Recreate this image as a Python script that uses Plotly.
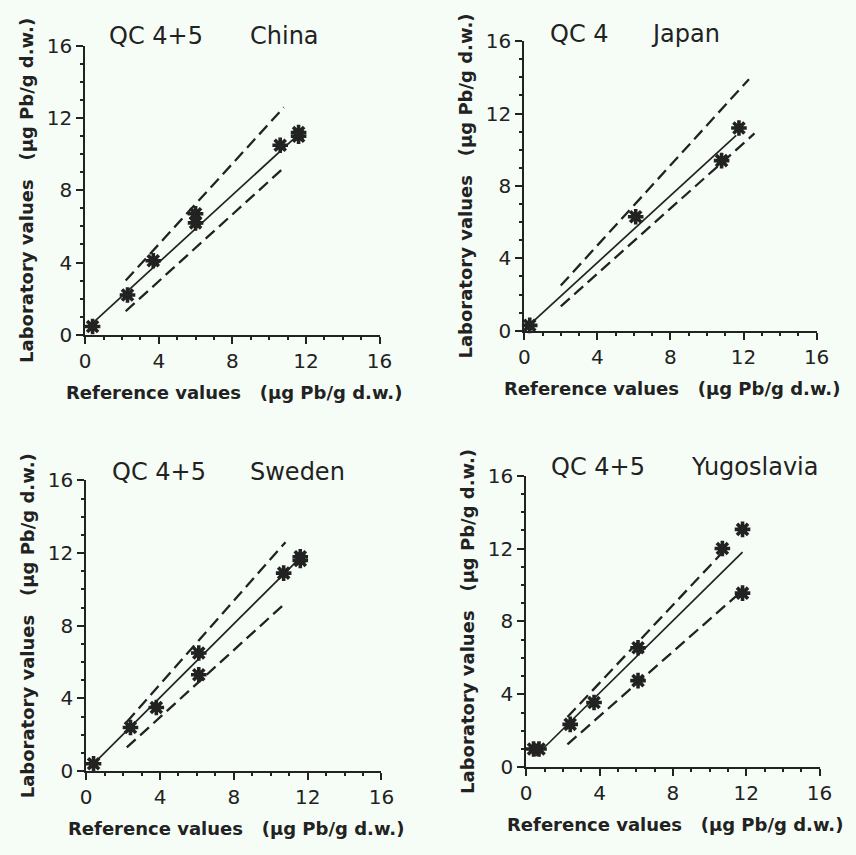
import plotly.graph_objects as go

W, H = 856, 855

# ---- data: reference value (x) vs laboratory value (y), µg Pb/g d.w. ----
panel_names = ["China", "Japan", "Sweden", "Yugoslavia"]
panel_series = ["QC 4+5", "QC 4", "QC 4+5", "QC 4+5"]

china_ref = [0.4, 2.3, 3.7, 6.0, 6.0, 10.6, 11.6, 11.6]
china_lab = [0.45, 2.2, 4.1, 6.7, 6.2, 10.5, 11.2, 11.0]
china_fit_x = [0.3, 11.6]
china_fit_y = [0.55, 11.1]
china_up_x = [2.2, 10.8]
china_up_y = [3.0, 12.6]
china_lo_x = [2.2, 10.85]
china_lo_y = [1.3, 9.3]

japan_ref = [0.3, 6.1, 10.8, 11.75]
japan_lab = [0.3, 6.3, 9.4, 11.2]
japan_fit_x = [0.15, 11.6]
japan_fit_y = [0.2, 10.8]
japan_up_x = [2.0, 12.3]
japan_up_y = [2.5, 13.9]
japan_lo_x = [2.0, 12.6]
japan_lo_y = [1.35, 10.9]

sweden_ref = [0.4, 2.4, 3.8, 6.1, 6.1, 10.7, 11.6, 11.6]
sweden_lab = [0.4, 2.4, 3.5, 6.5, 5.3, 10.9, 11.8, 11.6]
sweden_fit_x = [0.25, 11.55]
sweden_fit_y = [0.25, 11.7]
sweden_up_x = [2.2, 10.8]
sweden_up_y = [2.7, 12.6]
sweden_lo_x = [2.2, 10.85]
sweden_lo_y = [1.3, 9.3]

yugo_ref = [0.4, 0.7, 2.4, 3.7, 6.1, 6.1, 10.7, 11.8, 11.8]
yugo_lab = [1.0, 1.0, 2.35, 3.55, 6.55, 4.75, 12.0, 13.05, 9.55]
yugo_fit_x = [0.5, 11.8]
yugo_fit_y = [0.6, 11.8]
yugo_up_x = [2.25, 11.0]
yugo_up_y = [2.75, 12.1]
yugo_lo_x = [2.25, 11.8]
yugo_lo_y = [1.25, 9.7]

panels = [
    (china_ref, china_lab, china_fit_x, china_fit_y, china_up_x, china_up_y, china_lo_x, china_lo_y),
    (japan_ref, japan_lab, japan_fit_x, japan_fit_y, japan_up_x, japan_up_y, japan_lo_x, japan_lo_y),
    (sweden_ref, sweden_lab, sweden_fit_x, sweden_fit_y, sweden_up_x, sweden_up_y, sweden_lo_x, sweden_lo_y),
    (yugo_ref, yugo_lab, yugo_fit_x, yugo_fit_y, yugo_up_x, yugo_up_y, yugo_lo_x, yugo_lo_y),
]

# plot boxes in pixels: left, right, top, bottom
boxes = [(81, 382, 35, 332), (530, 829, 30, 328), (82, 384, 482, 781), (532, 832, 477, 777)]
# title pieces: x of "QC..." start, x of country start, vertical centre
title_pos = [(103, 247, 25), (554, 658, 23), (106, 248, 473), (555, 699, 468)]

INK = "#222222"
BG = "#f5fdf6"
FONT = "DejaVu Sans"
NB = "\u00a0\u00a0\u00a0"


def px(x):
    return x / W


def py(y):
    return 1 - y / H


fig = go.Figure()
annotations = []
layout_axes = {}

for i, (data, box, tpos) in enumerate(zip(panels, boxes, title_pos)):
    rx, ly, fx, fy, ux, uy, lx, lyy = data
    n = i + 1
    xa = "x" if n == 1 else f"x{n}"
    ya = "y" if n == 1 else f"y{n}"

    # regression line and dashed tolerance band
    fig.add_trace(go.Scatter(x=fx, y=fy, mode="lines", xaxis=xa, yaxis=ya,
                             line=dict(color=INK, width=1.7), showlegend=False))
    for dx, dy in ((ux, uy), (lx, lyy)):
        fig.add_trace(go.Scatter(x=dx, y=dy, mode="lines", xaxis=xa, yaxis=ya,
                                 line=dict(color=INK, width=2.3, dash="12px,6px"),
                                 showlegend=False))
    fig.add_trace(go.Scatter(x=rx, y=ly, mode="markers", xaxis=xa, yaxis=ya,
                             cliponaxis=False,
                             marker=dict(symbol="asterisk-open", size=13, color=INK,
                                         line=dict(color=INK, width=3.6)),
                             showlegend=False))

    l, r, t, b = box
    common = dict(
        range=[0, 16], tickmode="linear", tick0=0, dtick=4,
        showline=True, linecolor=INK, linewidth=2, ticks="outside",
        ticklen=7, tickwidth=2, tickcolor=INK, showgrid=False, zeroline=False,
        tickfont=dict(family=FONT, size=20, color=INK),
        minor=dict(tickmode="linear", tick0=0, dtick=1, ticks="outside", ticklen=3,
                   tickwidth=2, tickcolor=INK, showgrid=False),
        fixedrange=True,
    )
    layout_axes["xaxis" if n == 1 else f"xaxis{n}"] = dict(
        common, domain=[px(l), px(r)], anchor=ya)
    layout_axes["yaxis" if n == 1 else f"yaxis{n}"] = dict(
        common, domain=[py(b), py(t)], anchor=xa)

    qx, cx, ty = tpos
    annotations.append(dict(text=panel_series[i], x=px(qx), y=py(ty), xref="paper", yref="paper",
                            xanchor="left", yanchor="middle", showarrow=False,
                            font=dict(family=FONT, size=24, color=INK)))
    annotations.append(dict(text=panel_names[i], x=px(cx), y=py(ty), xref="paper", yref="paper",
                            xanchor="left", yanchor="middle", showarrow=False,
                            font=dict(family=FONT, size=24, color=INK)))
    annotations.append(dict(text="Reference values" + NB + "(µg Pb/g d.w.)",
                            x=px((l + r) / 2 + 2), y=py(b + 59), xref="paper", yref="paper",
                            xanchor="center", yanchor="middle", showarrow=False,
                            font=dict(family=FONT, size=18, color=INK, weight="bold")))
    annotations.append(dict(text="Laboratory values" + NB + "(µg Pb/g d.w.)",
                            x=px(l - 60), y=py((t + b) / 2), xref="paper", yref="paper",
                            xanchor="center", yanchor="middle", showarrow=False, textangle=-90,
                            font=dict(family=FONT, size=18, color=INK, weight="bold")))

fig.update_layout(
    width=W, height=H, margin=dict(l=0, r=0, t=0, b=0),
    paper_bgcolor=BG, plot_bgcolor=BG,
    annotations=annotations, **layout_axes,
)

fig.write_html("out.html", config={"displayModeBar": False})
